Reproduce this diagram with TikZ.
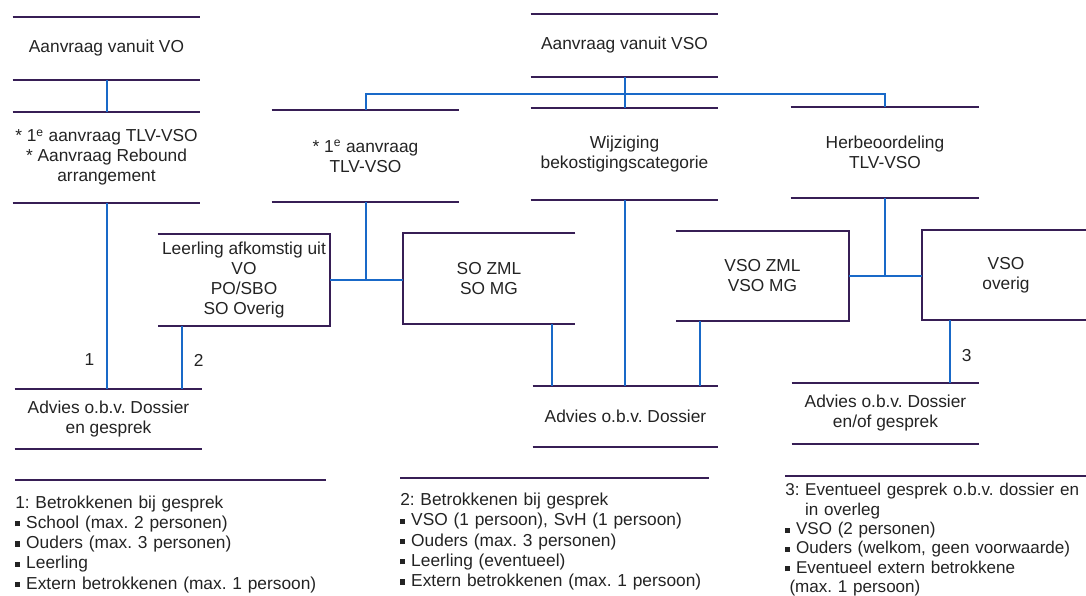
\documentclass[tikz,border=0pt]{standalone}
\usepackage{fontspec}
\setmainfont{Liberation Sans}
\usetikzlibrary{calc}
\definecolor{lijn}{RGB}{55,30,85}
\definecolor{blauw}{RGB}{25,105,200}
\definecolor{tekst}{RGB}{35,35,35}
\newcommand{\sqbullet}{\raisebox{0.22ex}{\rule{0.3em}{0.3em}}}
\frenchspacing

\begin{document}
\begin{tikzpicture}[x=0.75pt,y=-0.75pt,font=\fontsize{13}{15}\selectfont,text=tekst,
	blok/.style={inner sep=0pt,align=center},
	maat/.style 2 args={minimum width=#1*0.75pt,minimum height=#2*0.75pt},
	lijnstuk/.style={lijn,line width=1.4pt},
	verbinding/.style={blauw,line width=1.5pt},
	nummer/.style={text=tekst},
	legenda/.style={anchor=north west,inner xsep=0pt,align=left,font=\fontsize{13}{15.2}\selectfont}]
	\useasboundingbox (0,0) rectangle (1086,596);

	% linker kolom
	\node[blok,maat={187}{63}] (vo) at (106.5,48.5) {Aanvraag vanuit VO};
	\node[blok,maat={187}{91}] (vo1) at (106.5,157.5) {* 1\textsuperscript{e} aanvraag TLV-VSO\\* Aanvraag Rebound\\arrangement};
	\node[blok,maat={172}{92}] (leer) at (244,280) {Leerling afkomstig uit\\VO\\PO/SBO\\SO Overig};
	\node[blok,maat={187}{60}] (adv1) at (108.5,419) {Advies o.b.v. Dossier\\en gesprek};

	% midden
	\node[blok,maat={187}{63}] (vsotop) at (624.5,45.5) {Aanvraag vanuit VSO};
	\node[blok,maat={187}{92}] (eerste) at (365.5,156) {* 1\textsuperscript{e} aanvraag\\TLV-VSO};
	\node[blok,maat={187}{92}] (wijz) at (624.5,154) {Wijziging\\bekostigingscategorie};
	\node[blok,maat={188}{91}] (herb) at (885,152.5) {Herbeoordeling\\TLV-VSO};
	\node[blok,maat={172}{91}] (sozml) at (489,278.5) {SO ZML\\SO MG};
	\node[blok,maat={173}{90}] (vsozml) at (762.5,276) {VSO ZML\\VSO MG};
	\node[blok,maat={168}{90}] (vsoov) at (1006,275) {VSO\\overig};
	\node[blok,maat={185}{61}] (adv2) at (625.5,416.5) {Advies o.b.v. Dossier};
	\node[blok,maat={187}{61}] (adv3) at (885.5,413.5) {Advies o.b.v. Dossier\\en/of gesprek};

	% lijnen boven en onder
	\foreach \n in {vo,vo1,adv1,vsotop,eerste,wijz,herb,adv2,adv3}
		\draw[lijnstuk] (\n.north west) -- (\n.north east) (\n.south west) -- (\n.south east);
	\draw[lijnstuk] (leer.north west) -| (leer.south east) -- (leer.south west);
	\draw[lijnstuk] (vsozml.north west) -| (vsozml.south east) -- (vsozml.south west);
	\draw[lijnstuk] (sozml.north east) -| (sozml.south west) -- (sozml.south east);
	\draw[lijnstuk] (vsoov.north east) -| (vsoov.south west) -- (vsoov.south east);

	% verbindingen
	\draw[verbinding] (vo) -- (vo1);
	\draw[verbinding] (vo1.south) -- node[nummer,pos=0.845,left=5pt]{1} (vo1.south |- adv1.north);
	\draw[verbinding] ($(leer.south west)+(24,0)$) coordinate (l2) -- node[nummer,pos=0.54,right=5pt]{2} (l2 |- adv1.north);
	\coordinate (split) at (625,94);
	\draw[verbinding] (vsotop.south) -- (wijz.north);
	\draw[verbinding] (eerste.north) |- (split) -| (herb.north);
	\draw[verbinding] (eerste.south) -- (eerste.south |- leer.east);
	\draw[verbinding] (leer.east) -- (leer.east -| sozml.west);
	\draw[verbinding] (herb.south) -- (herb.south |- vsozml.east);
	\draw[verbinding] (vsozml.east) -- (vsozml.east -| vsoov.west);
	\draw[verbinding] ($(sozml.south east)+(-23,0)$) coordinate (s2) -- (s2 |- adv2.north);
	\draw[verbinding] (wijz.south) -- (wijz.south |- adv2.north);
	\draw[verbinding] ($(vsozml.south west)+(24,0)$) coordinate (v2) -- (v2 |- adv2.north);
	\draw[verbinding] ($(vsoov.south west)+(28,0)$) coordinate (v3) -- node[nummer,pos=0.57,right=5pt]{3} (v3 |- adv3.north);

	% legenda
	\node[legenda,text width=232.5pt,inner ysep=11.5pt] (leg1) at (15,480) {1: Betrokkenen bij gesprek\\
		\sqbullet\ School (max. 2 personen)\\
		\sqbullet\ Ouders (max. 3 personen)\\
		\sqbullet\ Leerling\\
		\sqbullet\ Extern betrokkenen (max. 1 persoon)};
	\node[legenda,text width=231pt,inner ysep=11pt] (leg2) at (400,478) {2: Betrokkenen bij gesprek\\
		\sqbullet\ VSO (1 persoon), SvH (1 persoon)\\
		\sqbullet\ Ouders (max. 3 personen)\\
		\sqbullet\ Leerling (eventueel)\\
		\sqbullet\ Extern betrokkenen (max. 1 persoon)};
	\node[legenda,text width=240pt,inner ysep=5.5pt,font=\fontsize{12.8}{14.5}\selectfont] (leg3) at (785,476) {3: Eventueel gesprek o.b.v. dossier en\\
		\hphantom{3: }in overleg\\
		\sqbullet\ VSO (2 personen)\\
		\sqbullet\ Ouders (welkom, geen voorwaarde)\\
		\sqbullet\ Eventueel extern betrokkene\\
		\hspace*{0.25em}(max. 1 persoon)};
	\foreach \n in {leg1,leg2,leg3}
		\draw[lijnstuk] (\n.north west) -- (\n.north east);
\end{tikzpicture}
\end{document}
